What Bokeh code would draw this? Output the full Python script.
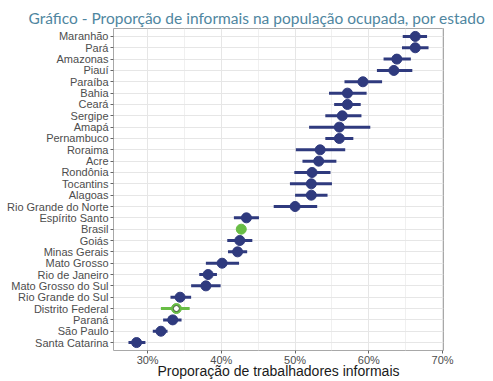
from bokeh.plotting import figure
from bokeh.models import FactorRange, Range1d, FixedTicker, Title, ColumnDataSource
from bokeh.embed import file_html
from bokeh.resources import INLINE

states = ["Maranhão", "Pará", "Amazonas", "Piauí", "Paraíba", "Bahia", "Ceará", "Sergipe",
          "Amapá", "Pernambuco", "Roraima", "Acre", "Rondônia", "Tocantins", "Alagoas",
          "Rio Grande do Norte", "Espírito Santo", "Brasil", "Goiás", "Minas Gerais",
          "Mato Grosso", "Rio de Janeiro", "Mato Grosso do Sul", "Rio Grande do Sul",
          "Distrito Federal", "Paraná", "São Paulo", "Santa Catarina"]
est = [66.3, 66.3, 63.8, 63.4, 59.2, 57.1, 57.1, 56.4, 56.0, 56.0, 53.4, 53.2, 52.3, 52.2, 52.2,
       50.0, 43.4, 42.7, 42.5, 42.2, 40.1, 38.2, 37.9, 34.4, 33.9, 33.4, 31.8, 28.5]
lo = [64.6, 64.5, 62.0, 61.1, 56.7, 54.6, 55.3, 54.1, 51.9, 54.1, 50.1, 51.0, 49.9, 49.3, 50.0,
      47.1, 41.7, 42.6, 40.8, 40.9, 37.9, 37.0, 35.9, 33.1, 31.8, 32.1, 30.7, 27.4]
hi = [67.9, 68.1, 65.7, 65.9, 61.8, 59.7, 58.9, 59.0, 60.2, 57.9, 56.8, 55.6, 54.8, 55.0, 54.4,
      53.0, 45.1, 42.8, 44.2, 43.5, 42.4, 39.4, 39.9, 35.9, 35.7, 34.6, 32.7, 29.7]
x_ticks = [30, 40, 50, 60, 70]
x_tick_labels = ["30%", "40%", "50%", "60%", "70%"]
x_minor = [35, 45, 55, 65]
title_text = "Gráfico - Proporção de informais na população ocupada, por estado"
x_title = "Proporação de trabalhadores informais"

NAVY = "#2f3a7e"
GREEN = "#68bd45"
highlight = {"Brasil", "Distrito Federal"}
colors = [GREEN if s in highlight else NAVY for s in states]

src = ColumnDataSource(dict(state=states, est=est, lo=lo, hi=hi, color=colors))

XMIN, XMAX = 25.37, 70.13
p = figure(width=493, height=381, output_backend="svg", toolbar_location=None,
           y_range=FactorRange(*list(reversed(states)), range_padding=0.2, range_padding_units="absolute"),
           x_range=Range1d(XMIN, XMAX),
           min_border_left=113, min_border_right=50, min_border_top=28, min_border_bottom=29)

p.title = Title(text=title_text, text_font="Lato", text_font_size="15.5px", text_font_style="normal",
                text_color="#4f86a0", align="left", offset=-85, standoff=0, vertical_align="top",
                text_line_height=0.8)

p.background_fill_color = "white"
p.border_fill_color = "white"
p.outline_line_color = "#a8a8a8"
p.outline_line_width = 1

p.xaxis.ticker = FixedTicker(ticks=x_ticks, minor_ticks=x_minor)
p.xaxis.major_label_overrides = dict(zip(x_ticks, x_tick_labels))
for ax in (p.xaxis, p.yaxis):
    ax.axis_line_color = None
    ax.major_tick_line_color = "#666666"
    ax.major_tick_in = 0
    ax.major_tick_out = 3
    ax.minor_tick_line_color = None
    ax.major_label_text_font = "Liberation Sans"
    ax.major_label_text_font_size = "11px"
    ax.major_label_text_color = "#4d4d4d"
    ax.major_label_standoff = 2

p.xaxis.major_label_standoff = -1
p.xaxis.axis_label = x_title
p.xaxis.axis_label_text_font = "Liberation Sans"
p.xaxis.axis_label_text_font_size = "14px"
p.xaxis.axis_label_text_font_style = "normal"
p.xaxis.axis_label_text_color = "#1a1a1a"
p.xaxis.axis_label_standoff = -6

p.xgrid.grid_line_color = "#e6e6e6"
p.xgrid.minor_grid_line_color = "#f0f0f0"
p.ygrid.grid_line_color = "#e6e6e6"

p.segment(x0="lo", x1="hi", y0="state", y1="state", line_color="color", line_width=3, source=src)
p.scatter(x="est", y="state", size=10, fill_color="color", line_color="color", source=src)

df_i = states.index("Distrito Federal")
p.scatter(x=[est[df_i]], y=[states[df_i]], size=6, fill_color="white", line_color="#3c5a30", line_width=1)

open("out.html", "w").write(file_html(p, INLINE))
